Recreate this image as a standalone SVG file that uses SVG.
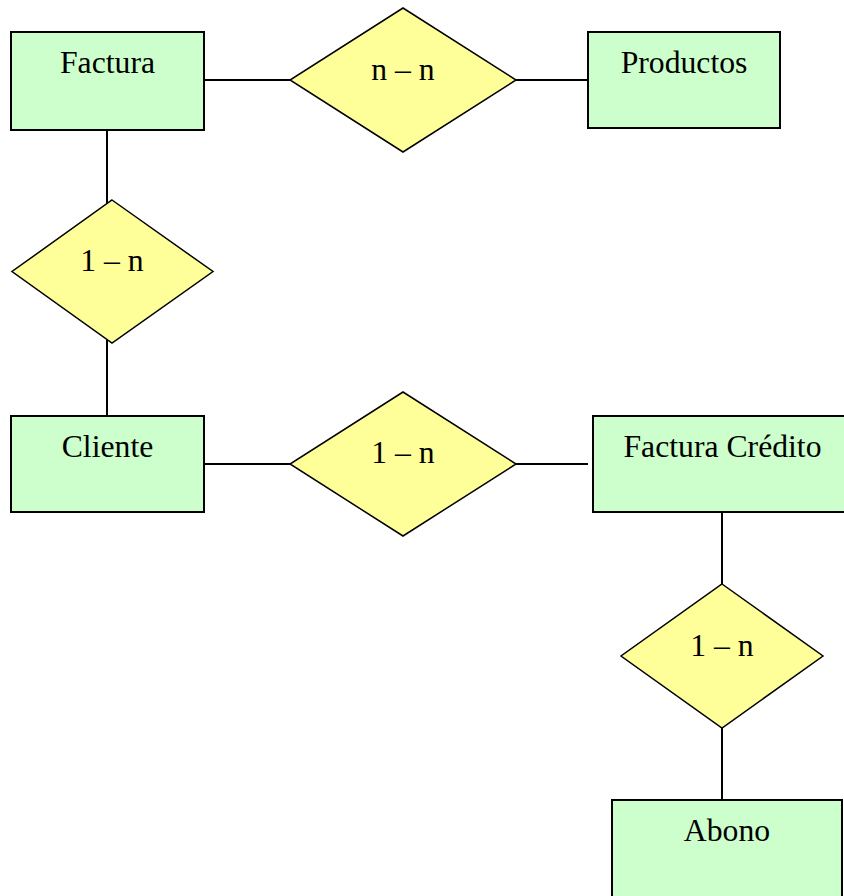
<svg xmlns="http://www.w3.org/2000/svg" width="844" height="896" viewBox="0 0 844 896">
<style>
.ent{fill:#CCFFCC;stroke:#000;stroke-width:2}
.rel{fill:#FFFF99;stroke:#000;stroke-width:1.5}
.lbl{font-family:"Liberation Serif","Times New Roman",serif;font-size:31.7px;fill:#000;text-anchor:middle}
.conn line{stroke:#000;stroke-width:2}
</style>
<rect width="844" height="896" fill="#fff"/>
<g id="connectors" class="conn">
<line x1="204" y1="80" x2="290" y2="80"/>
<line x1="516" y1="80" x2="588" y2="80"/>
<line x1="107" y1="130" x2="107" y2="204"/>
<line x1="107" y1="340" x2="107" y2="416"/>
<line x1="204" y1="464" x2="290" y2="464"/>
<line x1="516" y1="464" x2="588" y2="464"/>
<line x1="722" y1="512" x2="722" y2="584"/>
<line x1="722" y1="728" x2="722" y2="800"/>
</g>
<g id="factura"><rect class="ent" x="11" y="32" width="193" height="98"/><text class="lbl" x="107.5" y="73">Factura</text></g>
<g id="productos"><rect class="ent" x="588" y="32" width="192" height="96"/><text class="lbl" x="684" y="73">Productos</text></g>
<g id="cliente"><rect class="ent" x="11" y="416" width="193" height="96"/><text class="lbl" x="107.5" y="457">Cliente</text></g>
<g id="factura-credito"><rect class="ent" x="593" y="416" width="259" height="96"/><text class="lbl" x="722.5" y="457">Factura Crédito</text></g>
<g id="abono"><rect class="ent" x="612" y="800" width="230" height="100"/><text class="lbl" x="727" y="841">Abono</text></g>
<g id="rel-factura-productos"><polygon class="rel" points="403,8 516,80 403,152 290,80"/><text class="lbl" x="403" y="80">n – n</text></g>
<g id="rel-factura-cliente"><polygon class="rel" points="112,200 213,271.5 112,343 12,271.5"/><text class="lbl" x="112" y="271">1 – n</text></g>
<g id="rel-cliente-fc"><polygon class="rel" points="403,392 516,464 403,536 290,464"/><text class="lbl" x="403" y="463">1 – n</text></g>
<g id="rel-fc-abono"><polygon class="rel" points="722,584 823,656 722,728 621,656"/><text class="lbl" x="722" y="656">1 – n</text></g>
</svg>
